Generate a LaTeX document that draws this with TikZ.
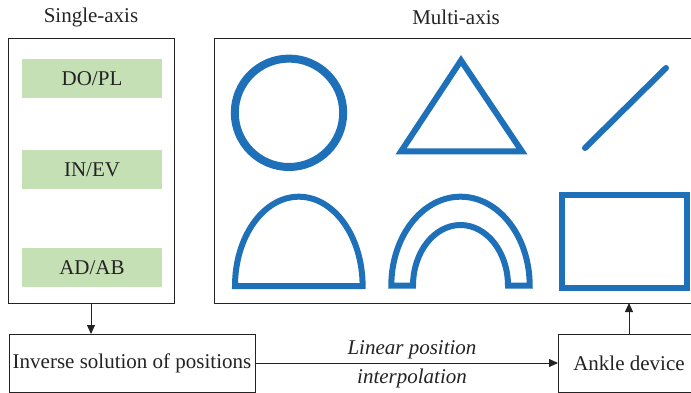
\documentclass[tikz,border=0pt]{standalone}
\usepackage{fontspec}
\setmainfont{Liberation Serif}
\usetikzlibrary{arrows.meta}
\definecolor{shapeblue}{RGB}{30,112,185}
\definecolor{lightgreen}{RGB}{197,224,180}
\definecolor{linegray}{RGB}{35,35,35}
\begin{document}
\begin{tikzpicture}[x=1pt,y=-1pt,
  font=\fontsize{21}{25}\selectfont,
  frame/.style={draw=linegray, line width=0.9pt, inner sep=0pt, outer sep=0pt, anchor=north west, text=linegray},
  greenbox/.style={fill=lightgreen, inner sep=0pt, minimum width=140pt, minimum height=39pt, text=linegray},
  title/.style={text=linegray, inner sep=0pt},
  lbl/.style={text=linegray, inner sep=0pt, font=\fontsize{21}{25}\selectfont\itshape},
  shapeline/.style={draw=shapeblue, line width=6pt},
  conn/.style={draw=linegray, line width=0.9pt, -{Triangle[length=9pt,width=8pt]}}
]
\useasboundingbox (0,0) rectangle (691,393);
\clip (0,0) rectangle (691,393);

% frames
\node[frame, minimum width=166pt, minimum height=265pt] (single) at (8,38) {};
\node[frame, minimum width=480pt, minimum height=265pt] (multi) at (214,38) {};
\node[frame, minimum width=246pt, minimum height=58pt] (inverse) at (9,334) {Inverse solution of positions};
\node[frame, minimum width=142pt, minimum height=58pt] (ankle) at (558,334) {Ankle device};

% titles
\node[title] (singletitle) at (91,17) {Single-axis};
\node[title] (multititle) at (456,17) {Multi-axis};

% green boxes
\node[greenbox] (dopl) at (92,78.5) {DO/PL};
\node[greenbox] (inev) at (92,170) {IN/EV};
\node[greenbox] (adab) at (92,267.5) {AD/AB};

% connectors
\draw[conn] (single.south) -- (single.south |- inverse.north);
\draw[conn] (inverse.east) -- (ankle.west);
\draw[conn] (ankle.north) -- (ankle.north |- multi.south);
\node[lbl] (lbl1) at (412,350) {Linear position};
\node[lbl] (lbl2) at (412,378) {interpolation};

% blue shapes
\draw[shapeline, line width=8pt] (289,112.8) circle [radius=54.2];
\draw[shapeline] (461,60.5) -- (522,151.5) -- (401,151.5) -- cycle;
\draw[shapeline, line cap=round] (585,148) -- (666,68);
\draw[shapeline] (235,286) arc[start angle=180, end angle=360, x radius=63.8, y radius=89.3] -- cycle;
\draw[shapeline] (391.3,285.7) arc[start angle=180, end angle=360, x radius=69.2, y radius=89]
  -- (508,285.7) arc[start angle=360, end angle=180, x radius=47.5, y radius=60.7] -- cycle;
\draw[shapeline] (562,195.3) rectangle (687,288.3);
\end{tikzpicture}
\end{document}
